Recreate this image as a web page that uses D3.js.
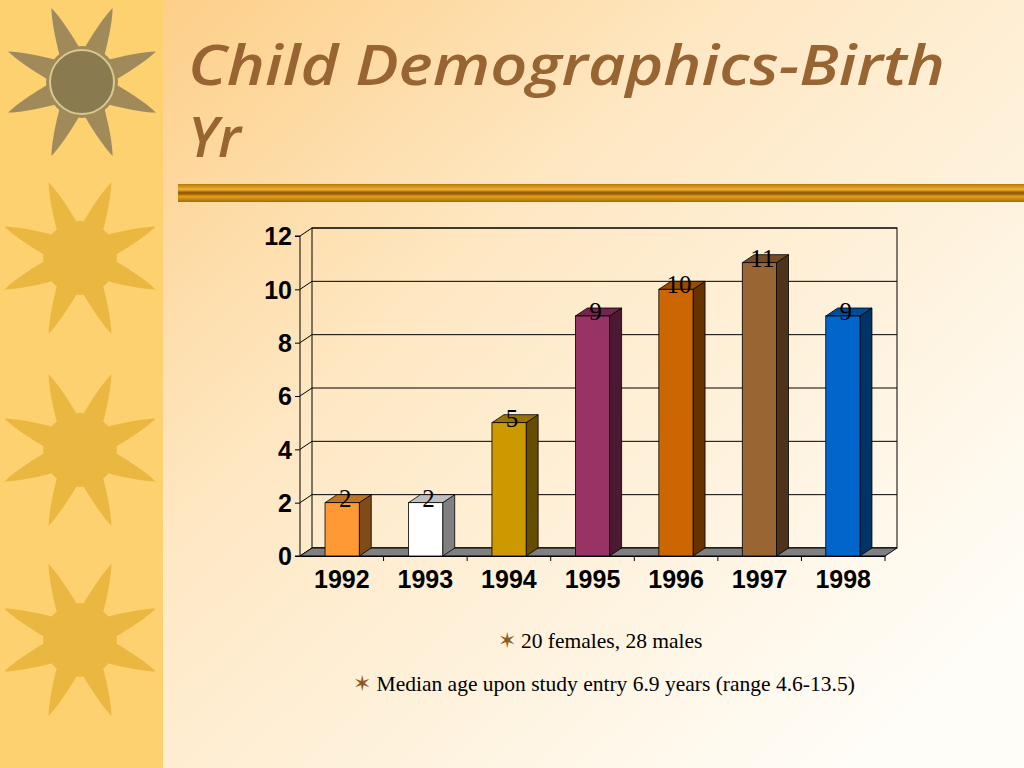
<!DOCTYPE html>
<meta charset="utf-8">
<html>
<head>
<script src="https://d3js.org/d3.v7.js"></script>
<style>body{margin:0;overflow:hidden}</style>
</head>
<body>
<script>
// chart data
const years = ["1992", "1993", "1994", "1995", "1996", "1997", "1998"];
const counts = [2, 2, 5, 9, 10, 11, 9];
const frontColors = ["#ff9933", "#ffffff", "#cc9900", "#993366", "#cc6600", "#996633", "#0066cc"];
const sideColors = ["#7f4c19", "#808080", "#664c00", "#4c1933", "#663300", "#4c3319", "#003366"];
const topColors = ["#bf7326", "#bfbfbf", "#997300", "#73264c", "#994c00", "#734c26", "#004c99"];
const yTicks = [0, 2, 4, 6, 8, 10, 12];
const notes = ["20 females, 28 males", "Median age upon study entry 6.9 years (range 4.6-13.5)"];

const W = 1024, H = 768;
const svg = d3.select("body").append("svg").attr("width", W).attr("height", H);
const defs = svg.append("defs");

// background
const bg = defs.append("linearGradient").attr("id", "bg").attr("x1", 0).attr("y1", 0).attr("x2", 1).attr("y2", 0.8);
bg.append("stop").attr("offset", "0%").attr("stop-color", "#fdc878");
bg.append("stop").attr("offset", "45%").attr("stop-color", "#fee8c4");
bg.append("stop").attr("offset", "100%").attr("stop-color", "#fffdf8");
svg.append("rect").attr("width", W).attr("height", H).attr("fill", "url(#bg)");

// left strip with suns
svg.append("rect").attr("width", 163).attr("height", H).attr("fill", "#fdd070");
function sun(cx, cy, r, col) {
  const g = svg.append("g").attr("transform", `translate(${cx},${cy})`);
  for (let i = 0; i < 8; i++) {
    const a = i * Math.PI / 4 + Math.PI / 8;
    const p = d3.path();
    p.moveTo(Math.cos(a - 0.35) * r * 0.4, Math.sin(a - 0.35) * r * 0.4);
    p.quadraticCurveTo(Math.cos(a - 0.1) * r * 0.8, Math.sin(a - 0.1) * r * 0.8, Math.cos(a) * r, Math.sin(a) * r);
    p.quadraticCurveTo(Math.cos(a + 0.1) * r * 0.8, Math.sin(a + 0.1) * r * 0.8, Math.cos(a + 0.35) * r * 0.4, Math.sin(a + 0.35) * r * 0.4);
    g.append("path").attr("d", p.toString()).attr("fill", col);
  }
  g.append("circle").attr("r", r * 0.45).attr("fill", col);
  return g;
}
sun(82, 82, 80, "#a08a5a");
svg.append("circle").attr("cx", 82).attr("cy", 82).attr("r", 32).attr("fill", "#8a7a50").attr("stroke", "#d8c890").attr("stroke-width", 2);
sun(80, 258, 82, "#eab840");
sun(80, 450, 82, "#eab840");
sun(80, 640, 82, "#eab840");

// title
const titleFont = { "font-family": "Open Sans, sans-serif", "font-style": "italic", "font-weight": "600", "font-size": 56, "fill": "#986432" };
[["Child Demographics-Birth", 85], ["Yr", 157]].forEach(([t, ty]) => {
  const tx = svg.append("text").attr("x", 188).attr("y", ty).text(t);
  Object.entries(titleFont).forEach(([k, v]) => tx.attr(k, v));
});
svg.select("text").attr("textLength", 757).attr("lengthAdjust", "spacingAndGlyphs");

// gold rule
const gold = defs.append("linearGradient").attr("id", "gold").attr("x1", 0).attr("y1", 0).attr("x2", 0).attr("y2", 1);
[["0%", "#b87808"], ["30%", "#f0b030"], ["50%", "#8a5200"], ["70%", "#e0a020"], ["100%", "#a86a00"]]
  .forEach(s => gold.append("stop").attr("offset", s[0]).attr("stop-color", s[1]));
svg.append("rect").attr("x", 178).attr("y", 184).attr("width", 846).attr("height", 18).attr("fill", "url(#gold)");

// chart
const dx = 12, dy = 8;
const x0 = 300, x1 = 885, yBase = 556, yTop = 236;
const x = d3.scaleBand().domain(years).range([x0, x1]).paddingInner(0.59).paddingOuter(0.3);
const y = d3.scaleLinear().domain([0, 12]).range([yBase, yTop]);
const chart = svg.append("g");

// back wall and gridlines
chart.append("rect").attr("x", x0 + dx).attr("y", y(12) - dy).attr("width", x1 - x0).attr("height", yBase - yTop)
  .attr("fill", "none").attr("stroke", "#000").attr("stroke-width", 1);
chart.selectAll(".grid").data(yTicks).join("line")
  .attr("x1", x0 + dx).attr("x2", x1 + dx).attr("y1", d => y(d) - dy).attr("y2", d => y(d) - dy)
  .attr("stroke", "#000");
chart.selectAll(".gdiag").data(yTicks).join("line")
  .attr("x1", x0).attr("x2", x0 + dx).attr("y1", d => y(d)).attr("y2", d => y(d) - dy).attr("stroke", "#000");
// floor
chart.append("path").attr("d", `M${x0},${yBase}L${x0 + dx},${yBase - dy}L${x1 + dx},${yBase - dy}L${x1},${yBase}Z`)
  .attr("fill", "#808080").attr("stroke", "#000");

// axes
const yAxis = chart.append("g").attr("transform", `translate(${x0},0)`)
  .call(d3.axisLeft(y).tickValues(yTicks).tickSize(5).tickFormat(d3.format("d")));
yAxis.select(".domain").attr("d", `M-5,${yBase}H0V${yTop}H-5`);
yAxis.selectAll("text").style("font-family", "Liberation Sans, Arial, sans-serif").style("font-weight", "bold")
  .style("font-size", "25px").attr("fill", "#000").attr("dy", "0.35em");
const xAxis = chart.append("g").attr("transform", `translate(0,${yBase})`)
  .call(d3.axisBottom(d3.scaleBand().domain(years).range([x0, x1])).tickSize(5).tickSizeOuter(0));
xAxis.selectAll(".tick line").attr("transform", `translate(${(x1 - x0) / 14},0)`);
xAxis.selectAll("text").style("font-family", "Liberation Sans, Arial, sans-serif").style("font-weight", "bold")
  .style("font-size", "25px").attr("fill", "#000").attr("dy", "0.95em");

// bars
const bw = x.bandwidth();
const bars = chart.selectAll(".bar").data(years).join("g");
bars.append("path").attr("d", (d, i) => {
  const l = x(d) + bw, t = y(counts[i]);
  return `M${l},${yBase}L${l + dx},${yBase - dy}L${l + dx},${t - dy}L${l},${t}Z`;
}).attr("fill", (d, i) => sideColors[i]).attr("stroke", "#000").attr("stroke-width", 0.8);
bars.append("path").attr("d", (d, i) => {
  const l = x(d), t = y(counts[i]);
  return `M${l},${t}L${l + dx},${t - dy}L${l + bw + dx},${t - dy}L${l + bw},${t}Z`;
}).attr("fill", (d, i) => topColors[i]).attr("stroke", "#000").attr("stroke-width", 0.8);
bars.append("rect").attr("x", d => x(d)).attr("y", (d, i) => y(counts[i]))
  .attr("width", bw).attr("height", (d, i) => yBase - y(counts[i]))
  .attr("fill", (d, i) => frontColors[i]).attr("stroke", "#000").attr("stroke-width", 0.8);
bars.append("text").attr("x", d => x(d) + bw / 2 + 3).attr("y", (d, i) => y(counts[i]) + 4)
  .attr("text-anchor", "middle").attr("font-family", "Liberation Serif, serif").attr("font-size", 25)
  .attr("fill", "#000").text((d, i) => counts[i]);

// notes
const noteX = [600, 604], noteY = [648, 691];
notes.forEach((t, i) => {
  svg.append("text").attr("x", noteX[i]).attr("y", noteY[i]).attr("text-anchor", "middle")
    .attr("font-family", "Liberation Serif, serif").attr("font-size", 21.5).attr("fill", "#000")
    .html(`<tspan fill="#8a5a20" font-size="22">✶</tspan> ${t}`);
});
</script>
</body>
</html>
